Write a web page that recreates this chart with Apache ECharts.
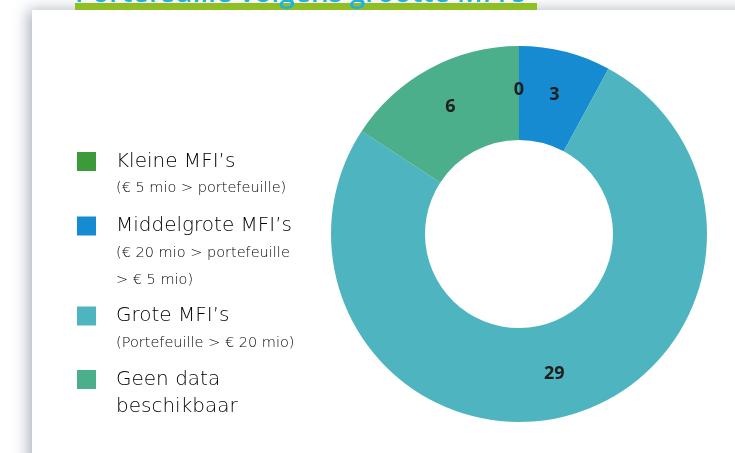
<!DOCTYPE html>
<html>
<head>
<meta charset="utf-8">
<script src="https://cdn.jsdelivr.net/npm/echarts@6/dist/echarts.min.js"></script>
<style>
  html, body { margin: 0; padding: 0; background: #fff; }
  #chart { width: 735px; height: 453px; }
</style>
</head>
<body>
<div id="chart"></div>
<script>
var categories = ['Kleine MFI\u2019s', 'Middelgrote MFI\u2019s', 'Grote MFI\u2019s', 'Geen data beschikbaar'];
var values = [0, 3, 29, 6];
var titleLines = [['Kleine MFI\u2019s'], ['Middelgrote MFI\u2019s'], ['Grote MFI\u2019s'], ['Geen data', 'beschikbaar']];
var subLines = [['(\u20ac 5 mio > portefeuille)'], ['(\u20ac 20 mio > portefeuille', '> \u20ac 5 mio)'], ['(Portefeuille > \u20ac 20 mio)'], []];
var chartTitle = 'Portefeuille volgens grootte MFI\u2019s';

var colors = ['#3d9a3b', '#168bd2', '#4eb5c0', '#4caf8b'];
var iconCenters = [161.5, 226, 316, 379.5]; // y of each legend square's middle
var lineH = 27;
var font = 'DejaVu Sans';

var chart = echarts.init(document.getElementById('chart'));

var legends = categories.map(function(name, i) {
	var extra = titleLines[i].length - 1 + subLines[i].length;
	var total = extra + 1;
	var boxH = lineH * (total + extra);
	return {
		data: [name],
		orient: 'vertical',
		left: 77,
		top: iconCenters[i] - boxH / 2,
		padding: 0,
		icon: 'rect',
		itemWidth: 19,
		itemHeight: 19,
		selectedMode: false,
		formatter: function() {
			var parts = titleLines[i].map(function(t) { return '{t|' + t + '}'; });
			subLines[i].forEach(function(s) { parts.push('{s|' + s + '}'); });
			return parts.join('\n');
		},
		textStyle: {
			padding: [lineH * extra, 0, 0, 15],
			backgroundColor: 'rgba(255,255,255,0)',
			rich: {
				t: { fontFamily: font, fontWeight: 200, fontSize: 20, lineHeight: lineH, color: '#000' },
				s: { fontFamily: font, fontWeight: 200, fontSize: 14.5, lineHeight: lineH, color: '#000' }
			}
		}
	};
});

var option = {
	animation: false,
	backgroundColor: '#fff',
	color: colors,
	graphic: [
		{
			type: 'rect',
			z: 0,
			shape: { x: 32, y: 10, width: 760, height: 500 },
			style: {
				fill: '#fff',
				shadowBlur: 14,
				shadowOffsetX: -4,
				shadowColor: 'rgba(50,65,90,0.4)'
			}
		},
		{
			type: 'rect',
			z: 1,
			shape: { x: 75, y: 3, width: 462, height: 7 },
			style: { fill: '#8fbf22' }
		},
		{
			type: 'text',
			z: 2,
			style: {
				text: chartTitle,
				x: 75,
				y: 8,
				verticalAlign: 'bottom',
				fill: '#1cb1e1',
				font: '600 28px "Open Sans"'
			}
		}
	],
	legend: legends,
	series: [
		{
			type: 'pie',
			silent: true,
			center: [519, 234],
			radius: [94, 188],
			startAngle: 90,
			clockwise: true,
			emphasis: { disabled: true },
			label: {
				show: true,
				position: 'inside',
				formatter: '{c}',
				color: '#1e1e1e',
				fontFamily: 'Open Sans',
				fontWeight: 'bold',
				fontSize: 18
			},
			labelLine: { show: false },
			data: categories.map(function(name, i) {
				return { name: name, value: values[i] };
			})
		}
	]
};

chart.setOption(option);
</script>
</body>
</html>
